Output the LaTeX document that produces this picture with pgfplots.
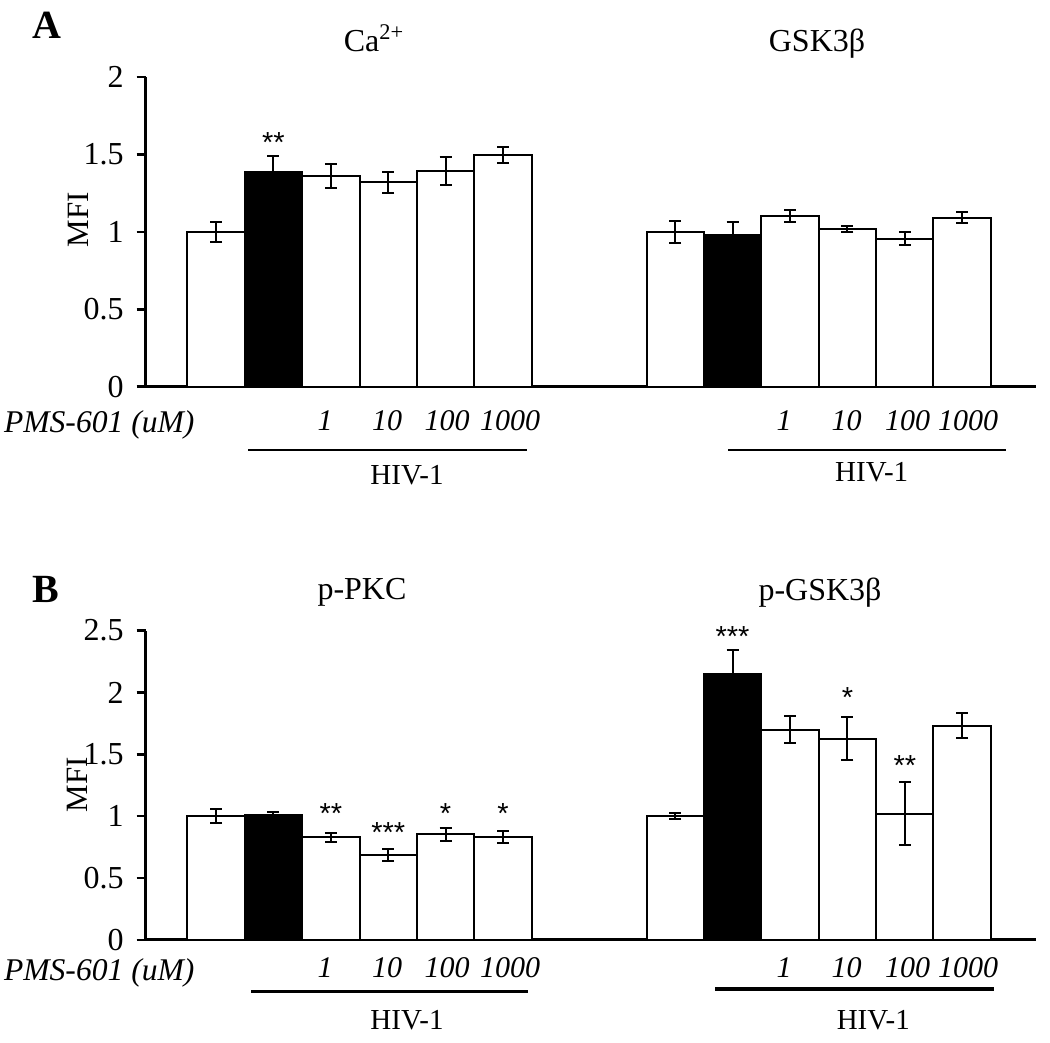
\documentclass[border=0pt]{standalone}
\usepackage{fontspec}
\setmainfont{Liberation Serif}
\newfontfamily\starfont{Liberation Sans}
\usepackage{pgfplots}
\pgfplotsset{compat=1.18}

\tikzset{star/.style={anchor=base, font=\starfont\fontsize{14.5}{14.5}\selectfont}}
\pgfplotsset{
  panel/.style={
    scale only axis, width=445.15pt, height=154.7pt,
    anchor=south west,
    xmin=-1.225, xmax=14.286, ymin=0,
    axis lines=left,
    axis line style={-, line width=1.5pt},
    xtick=\empty,
    tick align=outside, major tick length=4.5pt,
    ytick style={line width=1.2pt, black},
    yticklabel={\fontsize{16}{16}\selectfont\pgfmathprintnumber[assume math mode=true]{\tick}},
    yticklabel style={anchor=east, inner sep=0pt, xshift=-6.3pt},
    clip=false,
  },
  wbar/.style={ybar, bar width=1, bar shift=0pt, fill=white, draw=black, line width=1pt,
    error bars/.cd, y dir=both, y explicit,
    error bar style={line width=1pt, black},
    error mark options={rotate=90, line width=1pt, mark size=3pt, black}},
  kbar/.style={ybar, bar width=1, bar shift=0pt, fill=black, draw=black, line width=1pt,
    error bars/.cd, y dir=both, y explicit,
    error bar style={line width=1pt, black},
    error mark options={rotate=90, line width=1pt, mark size=3pt, black}},
}

\begin{document}
\begin{tikzpicture}
\begin{scope}[x=0.5pt, y=-0.5pt, shift={(0pt,521.5pt)}]
  \useasboundingbox (0,0) rectangle (1050,1043);
  % panel letters
  \node[font=\bfseries\fontsize{20}{20}\selectfont] at (47,25) {A};
  \node[font=\bfseries\fontsize{20}{20}\selectfont] at (46,589) {B};
  % titles
  \node[anchor=base, font=\fontsize{16}{16}\selectfont] at (374,51.7) {Ca\textsuperscript{2+}};
  \node[anchor=base, font=\fontsize{16}{16}\selectfont] at (817,52) {GSK3β};
  \node[anchor=base, font=\fontsize{16}{16}\selectfont] at (362,600) {p-PKC};
  \node[anchor=base, font=\fontsize{16}{16}\selectfont] at (820,601) {p-GSK3β};
  % y labels
  \node[rotate=90, font=\fontsize{15.5}{15.5}\selectfont] at (78,220) {MFI};
  \node[rotate=90, font=\fontsize{15.5}{15.5}\selectfont] at (77,785) {MFI};
  % treatment labels
  \begin{scope}[every node/.style={anchor=base, font=\itshape\fontsize{15}{15}\selectfont}]
    \node[anchor=base west, font=\itshape\fontsize{15.8}{15.8}\selectfont] at (-3,433) {PMS-601 (uM)};
    \node at (325,431) {1};
    \node at (387,431) {10};
    \node at (447,431) {100};
    \node at (510,431) {1000};
    \node at (784,431) {1};
    \node at (846.7,431) {10};
    \node at (907.7,431) {100};
    \node at (968,431) {1000};
    \node[anchor=base west, font=\itshape\fontsize{15.8}{15.8}\selectfont] at (-3,981) {PMS-601 (uM)};
    \node at (325,978) {1};
    \node at (387,978) {10};
    \node at (447,978) {100};
    \node at (510,978) {1000};
    \node at (784,978) {1};
    \node at (846.7,978) {10};
    \node at (907.7,978) {100};
    \node at (968,978) {1000};
  \end{scope}
  \draw[line width=1pt] (248,450.5) -- (527,450.5);
  \draw[line width=1pt] (728,450) -- (1006,450);
  \draw[line width=1.6pt] (251,991.5) -- (528,991.5);
  \draw[line width=1.6pt] (715,989) -- (994,989);
  \begin{scope}[every node/.style={anchor=base, font=\fontsize{14.5}{14.5}\selectfont}]
    \node at (407,485) {HIV-1};
    \node at (871.7,482) {HIV-1};
    \node at (407,1030) {HIV-1};
    \node at (873.3,1030) {HIV-1};
  \end{scope}
\end{scope}

% Panel A
\begin{axis}[panel, at={(72.85pt,328.15pt)}, ymax=2, ytick={0,0.5,1,1.5,2}]
  \addplot[wbar] table[x=x, y=y, y error=e] {
    x  y      e
    0  1.000  0.065
    2  1.364  0.077
    3  1.321  0.067
    4  1.396  0.090
    5  1.498  0.050
    8  1.000  0.073
    10 1.103  0.040
    11 1.019  0.022
    12 0.957  0.043
    13 1.093  0.037
  };
  \addplot[kbar] table[x=x, y=y, y error=e] {
    x  y      e
    1  1.386  0.105
    9  0.980  0.083
  };
  \node[star] at (axis cs:1,1.511) {**};
\end{axis}

% Panel B
\begin{axis}[panel, at={(72.85pt,51.5pt)}, ymax=2.5, ytick={0,0.5,1,1.5,2,2.5}]
  \addplot[wbar] table[x=x, y=y, y error=e] {
    x  y      e
    0  1.000  0.055
    2  0.830  0.038
    3  0.685  0.048
    4  0.854  0.054
    5  0.830  0.050
    8  1.000  0.025
    10 1.700  0.110
    11 1.628  0.177
    12 1.020  0.253
    13 1.733  0.100
  };
  \addplot[kbar] table[x=x, y=y, y error=e] {
    x  y      e
    1  1.012  0.022
    9  2.150  0.195
  };
  \node[star] at (axis cs:2,0.940) {**};
  \node[star] at (axis cs:3,0.791) {***};
  \node[star] at (axis cs:4,0.943) {*};
  \node[star] at (axis cs:5,0.943) {*};
  \node[star] at (axis cs:9,2.373) {***};
  \node[star] at (axis cs:11,1.875) {*};
  \node[star] at (axis cs:12,1.328) {**};
\end{axis}
\end{tikzpicture}
\end{document}
